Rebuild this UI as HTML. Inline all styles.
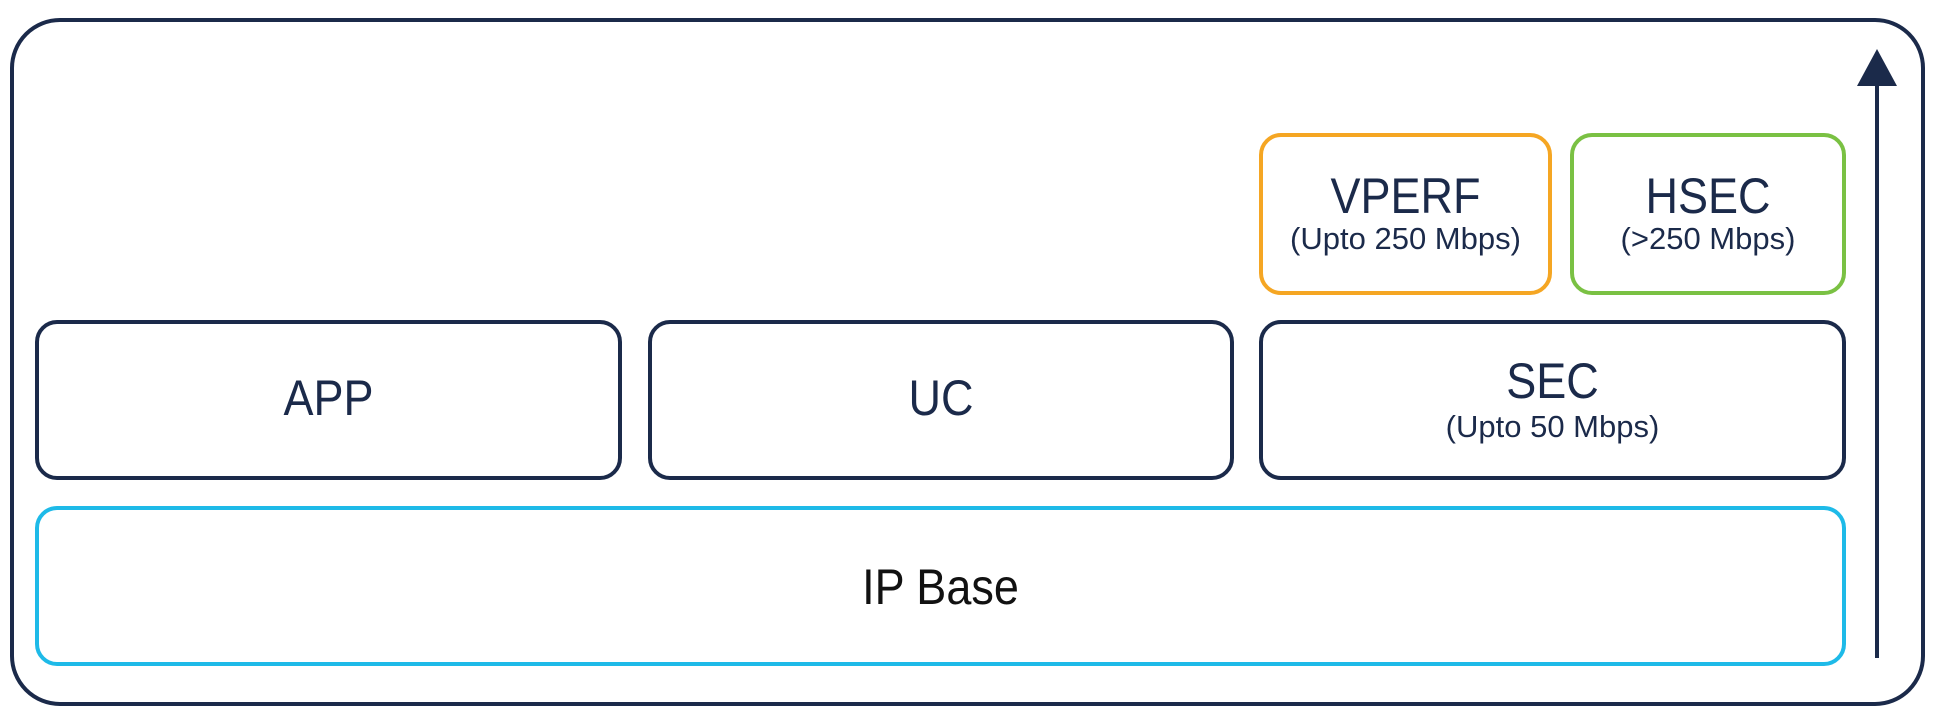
<!DOCTYPE html>
<html><head><style>
body{margin:0;width:1935px;height:721px;background:#fff;position:relative;overflow:hidden;font-family:"Liberation Sans",sans-serif;color:#1b2a4a}
.b{position:absolute;box-sizing:border-box;border:4px solid #1b2a4a;border-radius:22px}
.t{position:absolute;left:0;right:0;text-align:center;white-space:nowrap}
.m{font-size:50px;transform:scaleX(.9)}.s{font-size:31px}
</style></head><body>
<div class="b" style="left:10px;top:18px;width:1915px;height:688px;border-radius:50px"></div>
<div class="b" style="left:35px;top:320px;width:587px;height:160px"><div class="t m" style="top:45px">APP</div></div>
<div class="b" style="left:648px;top:320px;width:586px;height:160px"><div class="t m" style="top:45px">UC</div></div>
<div class="b" style="left:1259px;top:320px;width:587px;height:160px"><div class="t m" style="top:28px">SEC</div><div class="t s" style="top:85px">(Upto 50 Mbps)</div></div>
<div class="b" style="left:1259px;top:133px;width:293px;height:162px;border-color:#f5a623"><div class="t m" style="top:30px">VPERF</div><div class="t s" style="top:84px">(Upto 250 Mbps)</div></div>
<div class="b" style="left:1570px;top:133px;width:276px;height:162px;border-color:#7ac143"><div class="t m" style="top:30px">HSEC</div><div class="t s" style="top:84px">(&gt;250 Mbps)</div></div>
<div class="b" style="left:35px;top:506px;width:1811px;height:160px;border-color:#1ebae8"><div class="t m" style="top:48px;color:#111">IP Base</div></div>
<svg style="position:absolute;left:0;top:0" width="1935" height="721">
<line x1="1877" y1="658" x2="1877" y2="80" stroke="#1b2a4a" stroke-width="4"/>
<polygon points="1877,49 1857,86 1897,86" fill="#1b2a4a"/>
</svg>
</body></html>
